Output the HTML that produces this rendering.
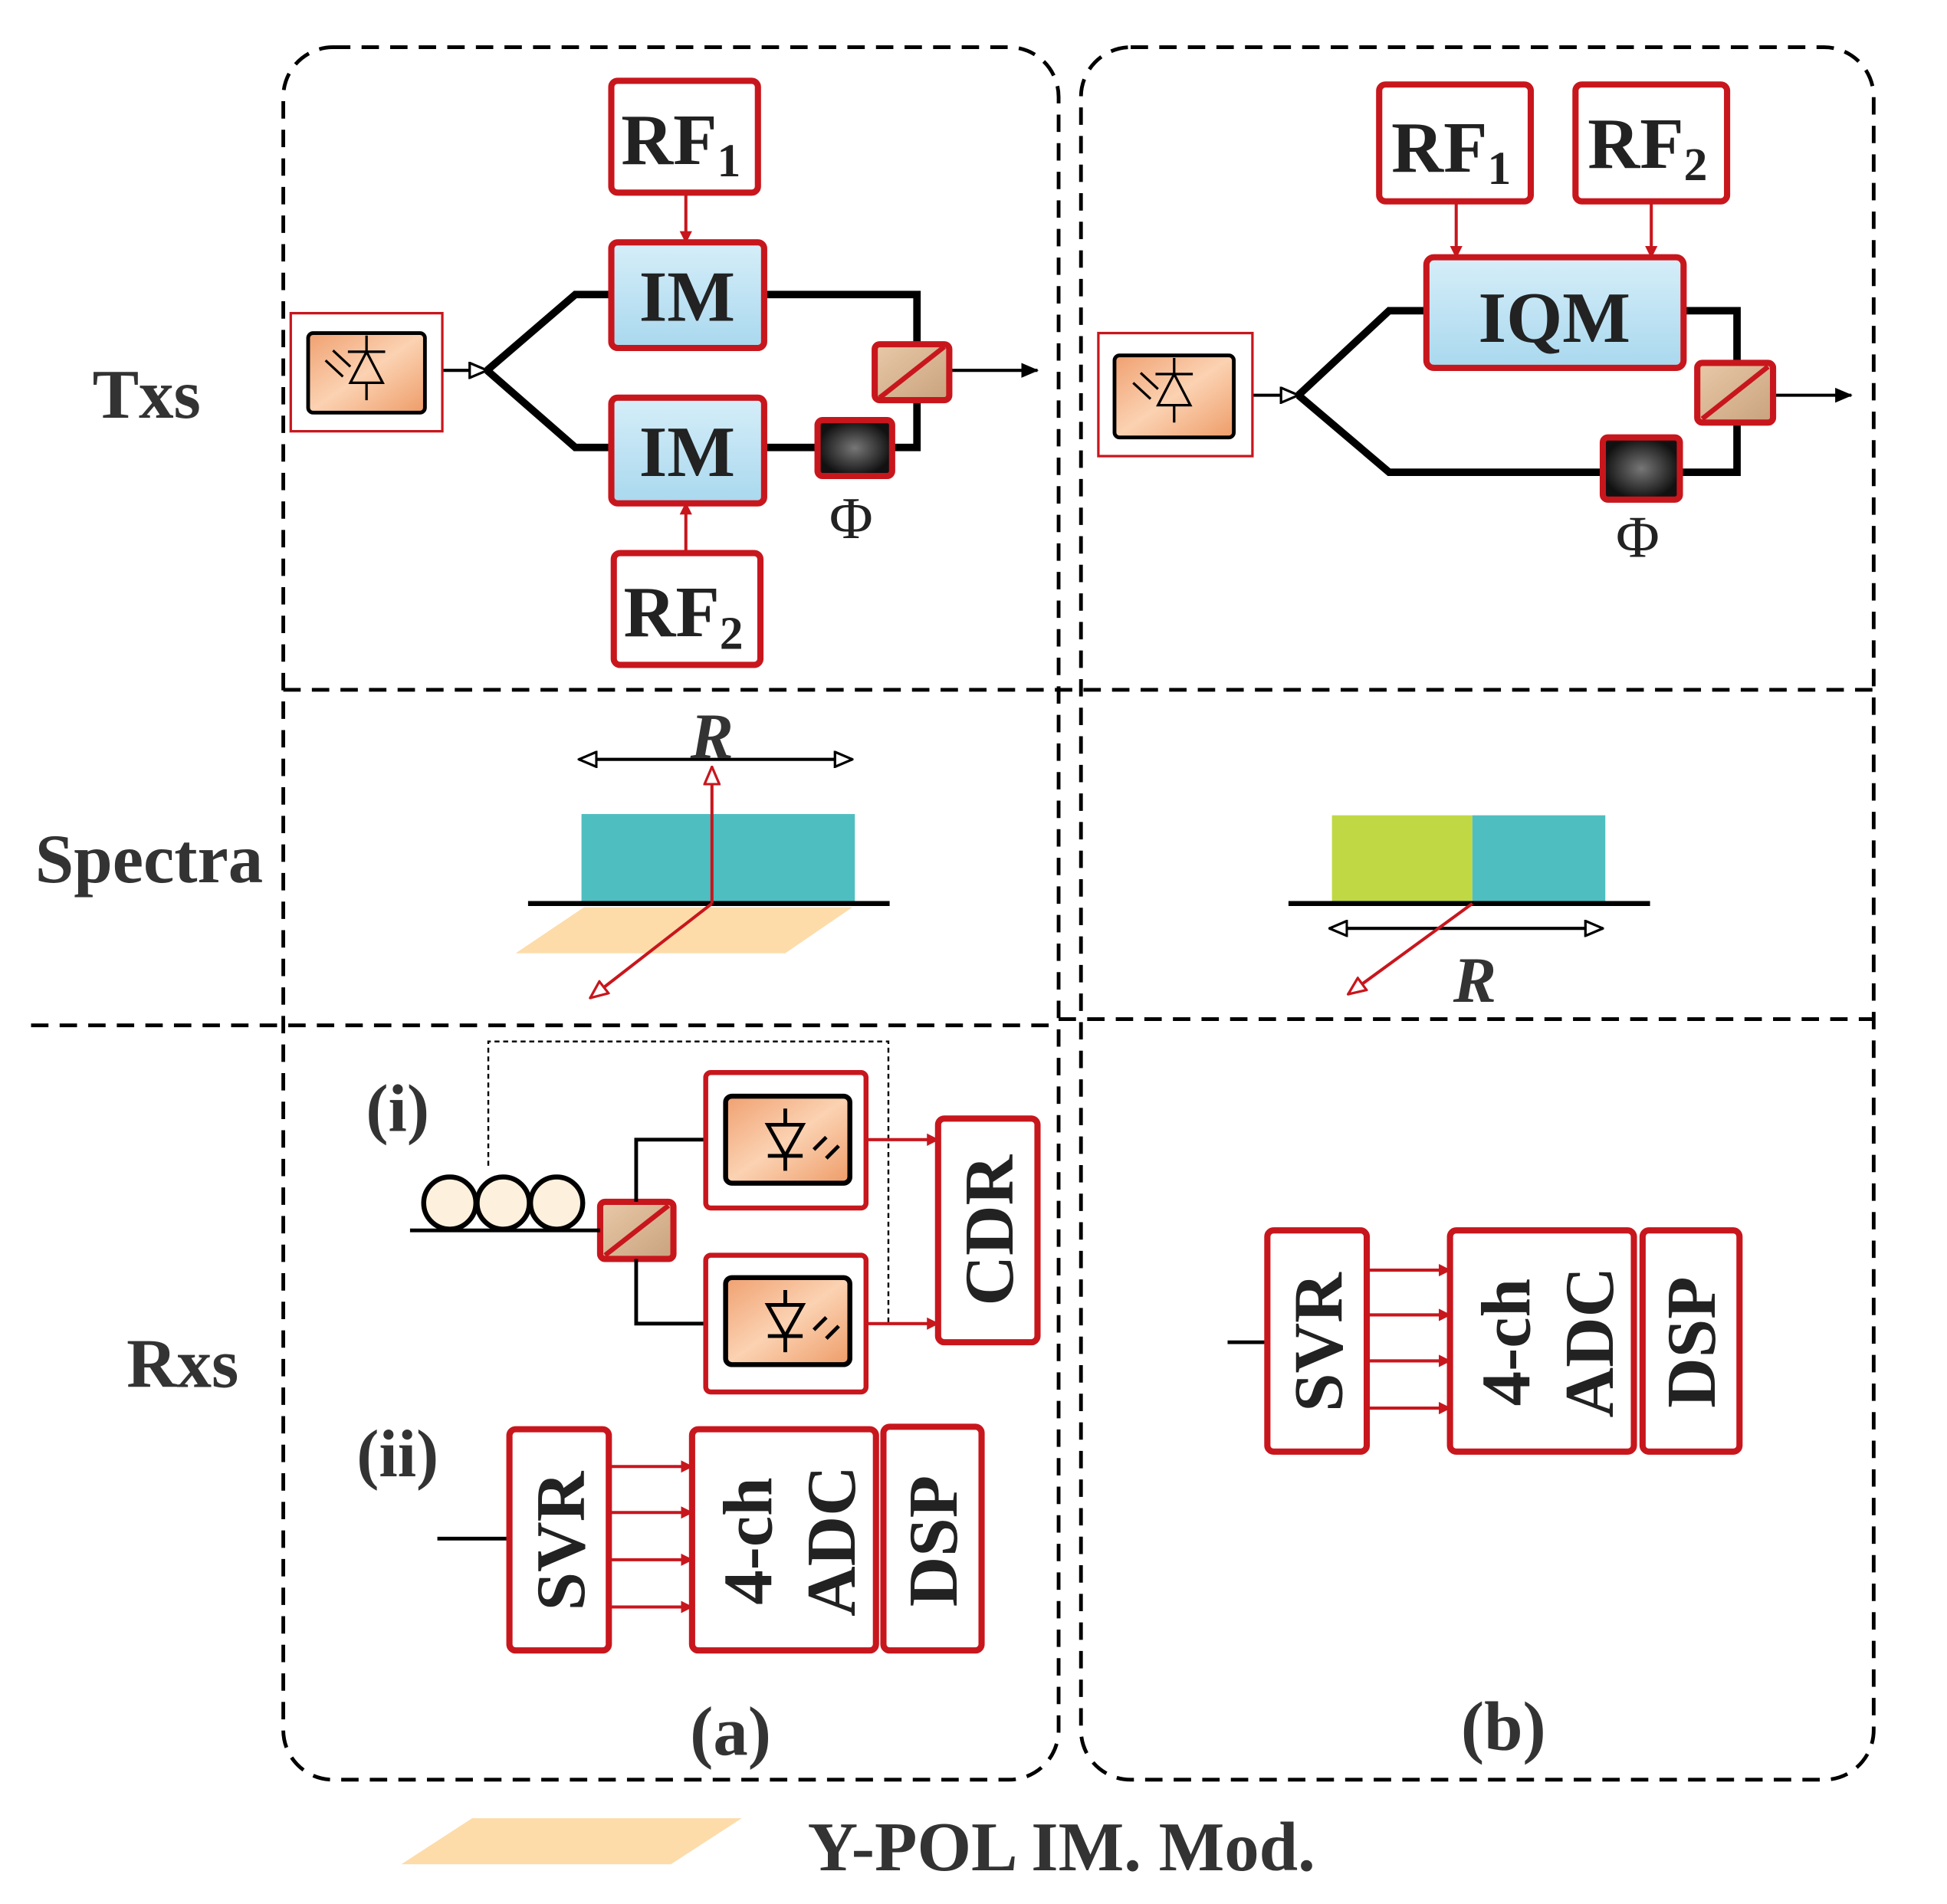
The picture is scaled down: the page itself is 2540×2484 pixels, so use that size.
<!DOCTYPE html>
<html><head><meta charset="utf-8"><style>html,body{margin:0;padding:0;background:#fff}svg{display:block}</style></head><body>
<svg width="2540" height="2484" viewBox="0 0 1567 1532" preserveAspectRatio="none" xmlns="http://www.w3.org/2000/svg" font-family="Liberation Serif, serif" font-weight="bold">
<defs>
<linearGradient id="im" x1="0" y1="0" x2="0" y2="1"><stop offset="0" stop-color="#d6eef9"/><stop offset="1" stop-color="#a9d8ee"/></linearGradient>
<linearGradient id="or" x1="0" y1="0" x2="1" y2="1"><stop offset="0" stop-color="#f0a070"/><stop offset="0.5" stop-color="#fbd2b2"/><stop offset="1" stop-color="#ee9c68"/></linearGradient>
<radialGradient id="ph"><stop offset="0" stop-color="#777"/><stop offset="1" stop-color="#111"/></radialGradient>
<linearGradient id="bs" x1="0" y1="0" x2="1" y2="1"><stop offset="0" stop-color="#e8c9a8"/><stop offset="1" stop-color="#c9a27e"/></linearGradient>
<marker id="ar" markerWidth="10" markerHeight="10" refX="9" refY="5" orient="auto" markerUnits="userSpaceOnUse"><path d="M0,0 L10,5 L0,10 z" fill="#c8161d"/></marker>
<marker id="ab" markerWidth="14" markerHeight="12" refX="13" refY="6" orient="auto" markerUnits="userSpaceOnUse"><path d="M0,0 L14,6 L0,12 z" fill="#000"/></marker>
<marker id="ao" markerWidth="16" markerHeight="14" refX="15" refY="7" orient="auto" markerUnits="userSpaceOnUse"><path d="M1,1 L15,7 L1,13 z" fill="#fff" stroke="#c8161d" stroke-width="2"/></marker>
<marker id="abo" markerWidth="16" markerHeight="14" refX="15" refY="7" orient="auto-start-reverse" markerUnits="userSpaceOnUse"><path d="M1,1 L15,7 L1,13 z" fill="#fff" stroke="#000" stroke-width="2"/></marker>
</defs>
<g fill="none" stroke="#000" stroke-width="3" stroke-dasharray="14,9">
<rect x="228" y="38" width="624" height="1394" rx="40"/>
<rect x="870" y="38" width="638" height="1394" rx="40"/>
<line x1="228" y1="555" x2="1508" y2="555"/>
<line x1="25" y1="825" x2="852" y2="825"/>
<line x1="852" y1="820" x2="1508" y2="820"/>
</g>
<g font-size="56" fill="#333" text-anchor="middle">
<text x="118" y="336">Txs</text><text x="120" y="710">Spectra</text><text x="147" y="1116">Rxs</text>
</g>
<g stroke="#000" stroke-width="6" fill="none">
<polyline points="392,298 463,237 492,237"/><polyline points="392,298 463,360 492,360"/>
<polyline points="615,237 738,237 738,280"/><polyline points="615,360 658,360"/><polyline points="718,360 738,360 738,318"/>
<polyline points="1045,318 1118,250 1148,250"/><polyline points="1045,318 1118,380 1290,380"/>
<polyline points="1355,250 1398,250 1398,295"/><polyline points="1352,380 1398,380 1398,338"/>
</g>
<g stroke="#000" stroke-width="2.5"><line x1="356" y1="298" x2="392" y2="298" marker-end="url(#abo)"/><line x1="764" y1="298" x2="835" y2="298" marker-end="url(#ab)"/>
<line x1="1008" y1="318" x2="1045" y2="318" marker-end="url(#abo)"/><line x1="1427" y1="318" x2="1490" y2="318" marker-end="url(#ab)"/></g>
<g stroke="#c8161d" stroke-width="2.5">
<line x1="552" y1="155" x2="552" y2="195" marker-end="url(#ar)"/><line x1="552" y1="445" x2="552" y2="405" marker-end="url(#ar)"/>
<line x1="1172" y1="162" x2="1172" y2="207" marker-end="url(#ar)"/><line x1="1329" y1="162" x2="1329" y2="207" marker-end="url(#ar)"/>
</g>
<g stroke="#c8161d" stroke-width="5">
<rect x="492" y="65" width="118" height="90" rx="5" fill="#fff"/>
<rect x="494" y="445" width="118" height="90" rx="5" fill="#fff"/>
<rect x="492" y="195" width="123" height="85" rx="5" fill="url(#im)"/>
<rect x="492" y="320" width="123" height="85" rx="5" fill="url(#im)"/>
<rect x="658" y="338" width="60" height="45" rx="4" fill="url(#ph)"/>
<rect x="704" y="277" width="60" height="45" rx="4" fill="url(#bs)"/>
<rect x="1110" y="68" width="122" height="94" rx="5" fill="#fff"/>
<rect x="1268" y="68" width="122" height="94" rx="5" fill="#fff"/>
<rect x="1148" y="207" width="207" height="89" rx="6" fill="url(#im)"/>
<rect x="1290" y="352" width="62" height="50" rx="4" fill="url(#ph)"/>
<rect x="1366" y="292" width="61" height="48" rx="4" fill="url(#bs)"/>
<rect x="483" y="967" width="59" height="46" rx="4" fill="url(#bs)"/>
</g>
<g stroke="#c8161d" stroke-width="4"><line x1="708" y1="320" x2="760" y2="279"/><line x1="1370" y1="337" x2="1423" y2="295"/><line x1="487" y1="1010" x2="538" y2="970"/></g>
<g stroke="#c8161d" stroke-width="2" fill="#fff"><rect x="234" y="252" width="122" height="95"/><rect x="884" y="268" width="124" height="99"/></g>
<g stroke="#000" stroke-width="3" fill="url(#or)"><rect x="248" y="268" width="94" height="64" rx="4"/><rect x="897" y="286" width="96" height="66" rx="4"/></g>
<g stroke="#000" stroke-width="2" fill="none">
<path d="M295,283 L282,308 L308,308 Z M280,283 L310,283 M295,308 L295,322 M295,270 L295,283"/><path d="M268,282 L282,295 M262,290 L276,303"/>
<path d="M945,301 L932,326 L958,326 Z M930,301 L960,301 M945,326 L945,340 M945,288 L945,301"/><path d="M918,300 L932,313 M912,308 L926,321"/>
</g>
<g font-size="58" fill="#222" text-anchor="middle">
<text x="548" y="132">RF<tspan font-size="38" dy="10">1</tspan></text>
<text x="550" y="512">RF<tspan font-size="38" dy="10">2</tspan></text>
<text x="553" y="258">IM</text><text x="553" y="383">IM</text>
<text x="1168" y="138">RF<tspan font-size="38" dy="10">1</tspan></text>
<text x="1326" y="135">RF<tspan font-size="38" dy="10">2</tspan></text>
<text x="1251" y="275">IQM</text>
</g>
<g font-size="48" font-weight="normal" fill="#222" text-anchor="middle"><text x="685" y="433">Φ</text><text x="1318" y="448">Φ</text></g>
<rect x="468" y="655" width="220" height="70" fill="#4fbec0"/>
<polygon points="415,767 632,767 686,730 470,730" fill="#fddcaa"/>
<line x1="425" y1="727" x2="716" y2="727" stroke="#000" stroke-width="4"/>
<line x1="466" y1="611" x2="686" y2="611" stroke="#000" stroke-width="2.5" marker-start="url(#abo)" marker-end="url(#abo)"/>
<line x1="573" y1="727" x2="573" y2="617" stroke="#c8161d" stroke-width="2.5" marker-end="url(#ao)"/>
<line x1="573" y1="727" x2="475" y2="803" stroke="#c8161d" stroke-width="2.5" marker-end="url(#ao)"/>
<text x="573" y="610" font-size="52" font-style="italic" fill="#333" text-anchor="middle">R</text>
<rect x="1072" y="656" width="113" height="69" fill="#c0d843"/><rect x="1185" y="656" width="107" height="69" fill="#4fbec0"/>
<line x1="1037" y1="727" x2="1328" y2="727" stroke="#000" stroke-width="4"/>
<line x1="1070" y1="747" x2="1290" y2="747" stroke="#000" stroke-width="2.5" marker-start="url(#abo)" marker-end="url(#abo)"/>
<line x1="1185" y1="727" x2="1085" y2="800" stroke="#c8161d" stroke-width="2.5" marker-end="url(#ao)"/>
<text x="1187" y="806" font-size="52" font-style="italic" fill="#333" text-anchor="middle">R</text>
<text x="320" y="910" font-size="54" fill="#333" text-anchor="middle">(i)</text>
<polyline points="393,938 393,838 715,838 715,1065" fill="none" stroke="#000" stroke-width="1.5" stroke-dasharray="4,3"/>
<g stroke="#000" stroke-width="4" fill="#fdf0dc"><circle cx="362" cy="968" r="21"/><circle cx="405" cy="968" r="21"/><circle cx="448" cy="968" r="21"/></g>
<line x1="330" y1="990" x2="483" y2="990" stroke="#000" stroke-width="3"/>
<polyline points="512,967 512,917 568,917" fill="none" stroke="#000" stroke-width="3"/><polyline points="512,1013 512,1065 568,1065" fill="none" stroke="#000" stroke-width="3"/>
<g stroke="#c8161d" stroke-width="4" fill="#fff"><rect x="568" y="863" width="129" height="109" rx="4"/><rect x="568" y="1010" width="129" height="110" rx="4"/></g>
<g stroke="#000" stroke-width="4" fill="url(#or)"><rect x="584" y="882" width="100" height="70" rx="5"/><rect x="584" y="1028" width="100" height="70" rx="5"/></g>
<g stroke="#000" stroke-width="3" fill="none">
<path d="M618,905 L632,930 L646,905 Z M618,930 L646,930 M632,930 L632,942 M632,892 L632,905"/><path d="M665,915 L655,925 M675,922 L665,932"/>
<path d="M618,1050 L632,1075 L646,1050 Z M618,1075 L646,1075 M632,1075 L632,1088 M632,1038 L632,1050"/><path d="M665,1060 L655,1070 M675,1067 L665,1077"/>
</g>
<g stroke="#c8161d" stroke-width="2.5"><line x1="697" y1="917" x2="755" y2="917" marker-end="url(#ar)"/><line x1="697" y1="1065" x2="755" y2="1065" marker-end="url(#ar)"/></g>
<text x="320" y="1188" font-size="54" fill="#333" text-anchor="middle">(ii)</text>
<line x1="352" y1="1238" x2="410" y2="1238" stroke="#000" stroke-width="3"/>
<g stroke="#c8161d" stroke-width="2.5">
<line x1="490" y1="1180" x2="557" y2="1180" marker-end="url(#ar)"/><line x1="490" y1="1217" x2="557" y2="1217" marker-end="url(#ar)"/><line x1="490" y1="1255" x2="557" y2="1255" marker-end="url(#ar)"/><line x1="490" y1="1293" x2="557" y2="1293" marker-end="url(#ar)"/>
<line x1="1100" y1="1022" x2="1167" y2="1022" marker-end="url(#ar)"/><line x1="1100" y1="1058" x2="1167" y2="1058" marker-end="url(#ar)"/><line x1="1100" y1="1095" x2="1167" y2="1095" marker-end="url(#ar)"/><line x1="1100" y1="1133" x2="1167" y2="1133" marker-end="url(#ar)"/>
</g>
<line x1="988" y1="1080" x2="1020" y2="1080" stroke="#000" stroke-width="3"/>
<g stroke="#c8161d" stroke-width="5" fill="#fff">
<rect x="755" y="900" width="80" height="180" rx="5"/>
<rect x="410" y="1150" width="80" height="178" rx="5"/><rect x="557" y="1150" width="148" height="178" rx="5"/><rect x="711" y="1148" width="79" height="180" rx="5"/>
<rect x="1020" y="990" width="80" height="178" rx="5"/><rect x="1167" y="990" width="148" height="178" rx="5"/><rect x="1322" y="990" width="78" height="178" rx="5"/>
</g>
<g font-size="56" fill="#222" text-anchor="middle">
<text transform="translate(815,990) rotate(-90)">CDR</text>
<text transform="translate(470,1240) rotate(-90)">SVR</text>
<text transform="translate(621,1240) rotate(-90)">4-ch</text>
<text transform="translate(688,1240) rotate(-90)">ADC</text>
<text transform="translate(770,1240) rotate(-90)">DSP</text>
<text transform="translate(1080,1080) rotate(-90)">SVR</text>
<text transform="translate(1231,1080) rotate(-90)">4-ch</text>
<text transform="translate(1298,1080) rotate(-90)">ADC</text>
<text transform="translate(1380,1080) rotate(-90)">DSP</text>
</g>
<g font-size="56" fill="#333" text-anchor="middle"><text x="588" y="1412">(a)</text><text x="1210" y="1408">(b)</text></g>
<polygon points="323,1500 540,1500 597,1463 380,1463" fill="#fddcaa"/>
<text x="650" y="1505" font-size="56" fill="#333">Y-POL IM. Mod.</text>
</svg>
</body></html>
